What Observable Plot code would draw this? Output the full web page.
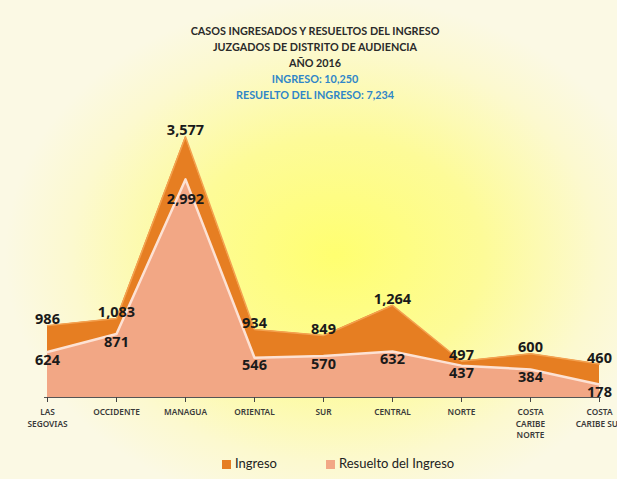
<!DOCTYPE html>
<html><head><meta charset="utf-8">
<script src="https://cdn.jsdelivr.net/npm/d3@7"></script>
<script src="https://cdn.jsdelivr.net/npm/@observablehq/plot@0.6"></script>
<style>
html,body{margin:0;padding:0;background:#fff;}
#wrap{position:relative;width:617px;height:479px;overflow:hidden;
 background:radial-gradient(ellipse 330px 260px at 335px 255px,#ffff70 0%,#fdfb98 45%,#fcf9cf 80%,#fbf9e4 100%);
 font-family:Lato,"Open Sans",sans-serif;}
#title{position:absolute;top:23px;left:0;width:630px;text-align:center;font-size:10.8px;line-height:16px;font-weight:bold;color:#2a2a2a;}
#title .b{color:#2f86c8;}
#chart{position:absolute;top:100px;left:0;}
#legend{position:absolute;top:455px;left:0;width:617px;font-size:13px;color:#222;}
#legend span.sw{display:inline-block;width:9px;height:9px;margin-right:4px;vertical-align:-1px;}
</style></head>
<body><div id="wrap">
<div id="title"></div>
<div id="chart"></div>
<div id="legend"></div>
</div>
<script>
const titleLines = ["CASOS INGRESADOS Y RESUELTOS DEL INGRESO","JUZGADOS DE DISTRITO DE AUDIENCIA","AÑO 2016"];
const blueLines = ["INGRESO: 10,250","RESUELTO DEL INGRESO: 7,234"];
const categories = ["LAS\nSEGOVIAS","OCCIDENTE","MANAGUA","ORIENTAL","SUR","CENTRAL","NORTE","COSTA\nCARIBE\nNORTE","COSTA\nCARIBE SUR"];
const ingreso = [986,1083,3577,934,849,1264,497,600,460];
const resuelto = [624,871,2992,546,570,632,437,384,178];
const seriesNames = ["Ingreso","Resuelto del Ingreso"];
const colIngreso = "#e67e22";
const colResuelto = "#f2a785";

document.getElementById("title").innerHTML =
  titleLines.map(t=>`<div>${t}</div>`).join("") + blueLines.map(t=>`<div class="b">${t}</div>`).join("");

const fmt = d3.format(",");
const dIng = categories.map((c,i)=>({cat:c,v:ingreso[i]}));
const dRes = categories.map((c,i)=>({cat:c,v:resuelto[i]}));
const peakIdx = resuelto.indexOf(d3.max(resuelto));

const plot = Plot.plot({
  width:617, height:345,
  marginLeft:44, marginRight:16, marginTop:20, marginBottom:48,
  style:{background:"transparent", overflow:"visible"},
  x:{type:"point", domain:categories, padding:0, label:null},
  y:{domain:[0,3800], axis:null},
  marks:[
    Plot.areaY(dIng,{x:"cat",y:"v",fill:colIngreso}),
    Plot.lineY(dIng,{x:"cat",y:"v",stroke:"#f3a150",strokeWidth:1.5}),
    Plot.areaY(dRes,{x:"cat",y:"v",fill:colResuelto}),
    Plot.lineY(dRes,{x:"cat",y:"v",stroke:"#fde2d4",strokeWidth:2.5}),
    Plot.ruleY([0],{stroke:"#555",strokeWidth:1}),
    Plot.axisX({tickSize:5, tickPadding:5, fontSize:8.3, fontWeight:600, color:"#3a3a3a", stroke:"#444", lineHeight:1.35, textAnchor:"middle"}),
    Plot.text(dIng,{x:"cat",y:"v",text:d=>fmt(d.v),dy:-6,fontSize:14.5,fontWeight:"bold",fill:"#1a1a1a"}),
    Plot.text(dRes.filter((d,i)=>i!==peakIdx),{x:"cat",y:"v",text:d=>fmt(d.v),dy:8,fontSize:14.5,fontWeight:"bold",fill:"#1a1a1a"}),
    Plot.text(dRes.filter((d,i)=>i===peakIdx),{x:"cat",y:"v",text:d=>fmt(d.v),dy:20,fontSize:14.5,fontWeight:"bold",fill:"#1a1a1a"})
  ]
});
document.getElementById("chart").appendChild(plot);

const lg = document.getElementById("legend");
lg.innerHTML = `<span style="position:absolute;left:222px;"><span class="sw" style="background:${colIngreso}"></span>${seriesNames[0]}</span>`+
 `<span style="position:absolute;left:326px;"><span class="sw" style="background:${colResuelto}"></span>${seriesNames[1]}</span>`;
</script>
</body></html>
